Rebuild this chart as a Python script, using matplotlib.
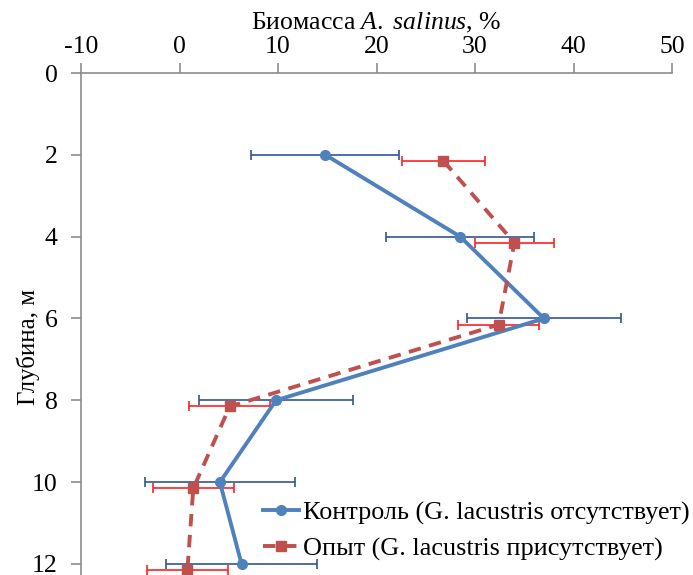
import matplotlib.pyplot as plt
import numpy as np

# Глубина, м
depth = [2, 4, 6, 8, 10, 12]
# смещение опыта по глубине, чтобы усы не перекрывались
depth_shift = 0.15

# Контроль (G. lacustris отсутствует)
control = [14.8, 28.5, 37.0, 9.8, 4.1, 6.3]
control_err = [7.5, 7.5, 7.8, 7.8, 7.6, 7.7]

# Опыт (G. lacustris присутствует)
exper = [26.8, 34.0, 32.4, 5.1, 1.4, 0.8]
exper_err = [4.2, 4.0, 4.1, 4.1, 4.1, 4.1]

xticks = [-10, 0, 10, 20, 30, 40, 50]
yticks = [0, 2, 4, 6, 8, 10, 12]

plt.rcParams['font.family'] = ['Liberation Serif', 'DejaVu Serif']
plt.rcParams['mathtext.fontset'] = 'custom'
plt.rcParams['mathtext.rm'] = 'Liberation Serif'
plt.rcParams['mathtext.it'] = 'Liberation Serif:italic'
plt.rcParams['axes.unicode_minus'] = False

fig = plt.figure(figsize=(6.93, 5.75), dpi=100)
ax = fig.add_axes([81 / 693, 0.0, (672 - 81) / 693, 1 - 73 / 575])

exper_depth = np.array(depth) + depth_shift

# усы
ax.errorbar(control, depth, xerr=control_err, fmt='none', ecolor='#2F5597',
            elinewidth=1.2, capsize=3.5, capthick=1.2, zorder=2)
ax.errorbar(exper, exper_depth, xerr=exper_err, fmt='none', ecolor='#FF2020',
            elinewidth=1.2, capsize=3.5, capthick=1.2, zorder=2)

# линии
ax.plot(control, depth, color='#4F81BD', lw=2.8, marker='o', ms=7,
        label='Контроль (G. lacustris отсутствует)', zorder=3)
ax.plot(exper, exper_depth, color='#C0504D', lw=2.8, ls=(0, (3.2, 2.2)), marker='s', ms=7,
        label='Опыт (G. lacustris присутствует)', zorder=3)

ax.set_xlim(-10, 50)
ax.set_ylim(12 + 11 / 40.9, 0)
ax.set_xticks(xticks)
ax.set_yticks(yticks)

ax.xaxis.tick_top()
ax.xaxis.set_label_position('top')
ax.set_xlabel(r'Биомасса $\mathit{A.\ salinus}$, %', fontsize=18.5)
ax.xaxis.set_label_coords(0.5, 1 + 44 / 502)
ax.set_ylabel('Глубина, м', fontsize=18)
ax.yaxis.set_label_coords(-0.07, 0.455)

for s in ['right', 'bottom']:
    ax.spines[s].set_visible(False)
for s in ['left', 'top']:
    ax.spines[s].set_color('#8C8C8C')
    ax.spines[s].set_linewidth(1.2)

ax.tick_params(axis='both', direction='out', length=7, width=1.2, color='#8C8C8C',
               labelsize=18.5)
ax.tick_params(axis='x', pad=4)
ax.tick_params(axis='y', pad=10)

ax.legend(loc='lower right', frameon=False, fontsize=18.8, handlelength=1.4,
          handletextpad=0.15, labelspacing=0.47, borderaxespad=0.2,
          bbox_to_anchor=(1.057, -0.003))

fig.savefig('out.png', dpi=100)
